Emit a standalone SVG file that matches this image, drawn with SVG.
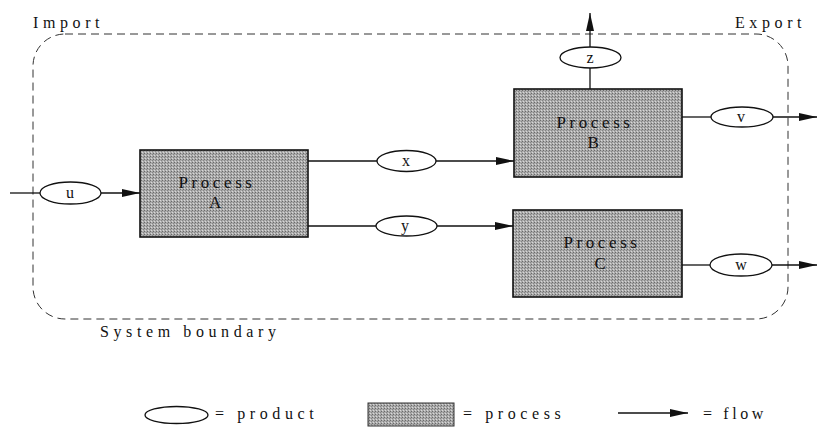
<svg xmlns="http://www.w3.org/2000/svg" width="817" height="428" viewBox="0 0 817 428">
<style>
text{font-family:"Liberation Serif","DejaVu Serif",serif;fill:#111;}
.lbl{font-size:16px;letter-spacing:4.6px;}
.pt{font-size:17px;letter-spacing:3.6px;text-anchor:middle;}
.et{font-size:16px;text-anchor:middle;}
.proc{fill:url(#stip);stroke:#111;stroke-width:1.6;}
.prod{fill:#fff;stroke:#111;stroke-width:1.3;}
.flow{stroke:#111;stroke-width:1.3;fill:none;}
</style>
<defs>
<pattern id="stip" width="3" height="3" patternUnits="userSpaceOnUse">
<rect width="3" height="3" fill="#ababab"/>
<rect x="0" y="0" width="1" height="1" fill="#6a6a6a"/>
<rect x="2" y="1" width="1" height="1" fill="#858585"/>
<rect x="1" y="2" width="1" height="1" fill="#d8d8d8"/>
</pattern>
<marker id="ah" markerWidth="18" markerHeight="10" refX="18" refY="5" orient="auto" markerUnits="userSpaceOnUse">
<path d="M0,1 L18,5 L0,9 Z" fill="#111"/>
</marker>
</defs>

<g id="boundary">
<rect x="33" y="34" width="755" height="285" rx="32" ry="32" fill="none" stroke="#333" stroke-width="1" stroke-dasharray="8,5"/>
<text class="lbl" x="33" y="28">Import</text>
<text class="lbl" x="735" y="28">Export</text>
<text class="lbl" x="100" y="337">System boundary</text>
</g>

<g id="connectors">
<line class="flow" x1="10" y1="193" x2="40" y2="193"/>
<line class="flow" x1="101" y1="193" x2="140" y2="193" marker-end="url(#ah)"/>
<line class="flow" x1="308" y1="161" x2="377" y2="161"/>
<line class="flow" x1="436" y1="161" x2="514" y2="161" marker-end="url(#ah)"/>
<line class="flow" x1="308" y1="226" x2="376" y2="226"/>
<line class="flow" x1="437" y1="226" x2="513" y2="226" marker-end="url(#ah)"/>
<line class="flow" x1="590" y1="89" x2="590" y2="68"/>
<line class="flow" x1="590" y1="47" x2="590" y2="13" marker-end="url(#ah)"/>
<line class="flow" x1="682" y1="117" x2="711" y2="117"/>
<line class="flow" x1="773" y1="117" x2="817" y2="117" marker-end="url(#ah)"/>
<line class="flow" x1="682" y1="265" x2="710" y2="265"/>
<line class="flow" x1="772" y1="265" x2="817" y2="265" marker-end="url(#ah)"/>
</g>

<g id="processA">
<rect class="proc" x="140" y="150" width="168" height="87"/>
<text class="pt" x="217" y="188">Process</text>
<text class="pt" x="217" y="208">A</text>
</g>
<g id="processB">
<rect class="proc" x="514" y="89" width="168" height="88"/>
<text class="pt" x="595" y="128">Process</text>
<text class="pt" x="595" y="148">B</text>
</g>
<g id="processC">
<rect class="proc" x="513" y="210" width="169" height="87"/>
<text class="pt" x="602" y="248">Process</text>
<text class="pt" x="602" y="269">C</text>
</g>

<g id="product-u">
<ellipse class="prod" cx="70.5" cy="193" rx="30.5" ry="11"/>
<text class="et" x="70" y="198">u</text>
</g>
<g id="product-x">
<ellipse class="prod" cx="406.5" cy="161" rx="29.5" ry="10.5"/>
<text class="et" x="406" y="166">x</text>
</g>
<g id="product-y">
<ellipse class="prod" cx="406.5" cy="226" rx="30.5" ry="10"/>
<text class="et" x="405" y="231">y</text>
</g>
<g id="product-z">
<ellipse class="prod" cx="590.5" cy="57.5" rx="30.5" ry="10.5"/>
<text class="et" x="590" y="63">z</text>
</g>
<g id="product-v">
<ellipse class="prod" cx="742" cy="117" rx="31" ry="10"/>
<text class="et" x="741" y="122">v</text>
</g>
<g id="product-w">
<ellipse class="prod" cx="741" cy="265" rx="31" ry="11"/>
<text class="et" x="741" y="270">w</text>
</g>

<g id="legend">
<ellipse class="prod" cx="176.5" cy="415" rx="31.5" ry="8.5"/>
<text class="lbl" x="215" y="419">= product</text>
<rect x="368" y="403" width="86" height="23" fill="url(#stip)" stroke="#333" stroke-width="1"/>
<text class="lbl" x="463" y="419">= process</text>
<line class="flow" x1="618" y1="413" x2="688" y2="413" marker-end="url(#ah)"/>
<text class="lbl" x="703" y="419" style="letter-spacing:3.6px">= flow</text>
</g>
</svg>
